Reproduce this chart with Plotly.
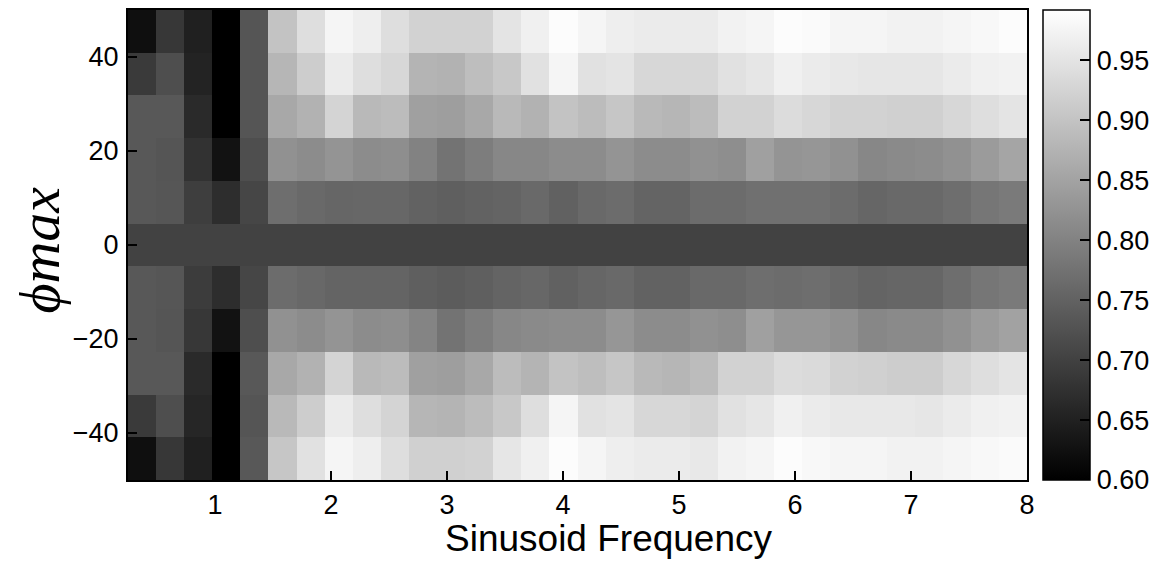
import numpy as np
import plotly.graph_objects as go

# Grid of the experiment
freqs = [0.25, 0.5, 0.75, 1.0, 1.25, 1.5, 1.75, 2.0, 2.25, 2.5, 2.75, 3.0, 3.25, 3.5, 3.75, 4.0,
         4.25, 4.5, 4.75, 5.0, 5.25, 5.5, 5.75, 6.0, 6.25, 6.5, 6.75, 7.0, 7.25, 7.5, 7.75, 8.0]
phis = [-50, -40, -30, -20, -10, 0, 10, 20, 30, 40, 50]

# values for each phi_max row (bottom to top), across the 32 frequencies
row_m50 = [0.623, 0.685, 0.649, 0.600, 0.735, 0.904, 0.946, 0.977, 0.966, 0.941, 0.920, 0.920, 0.923, 0.954, 0.969, 0.987,
           0.977, 0.966, 0.961, 0.961, 0.957, 0.972, 0.977, 0.987, 0.981, 0.977, 0.977, 0.972, 0.972, 0.977, 0.981, 0.984]
row_m40 = [0.689, 0.720, 0.658, 0.600, 0.731, 0.884, 0.915, 0.961, 0.941, 0.926, 0.880, 0.877, 0.889, 0.907, 0.941, 0.977,
           0.946, 0.950, 0.931, 0.931, 0.926, 0.946, 0.954, 0.969, 0.961, 0.957, 0.957, 0.957, 0.954, 0.961, 0.969, 0.972]
row_m30 = [0.735, 0.735, 0.665, 0.600, 0.735, 0.858, 0.874, 0.926, 0.884, 0.889, 0.846, 0.843, 0.858, 0.889, 0.877, 0.900,
           0.892, 0.904, 0.884, 0.880, 0.889, 0.923, 0.923, 0.938, 0.935, 0.923, 0.920, 0.915, 0.915, 0.931, 0.941, 0.950]
row_m20 = [0.735, 0.731, 0.685, 0.628, 0.720, 0.823, 0.815, 0.827, 0.815, 0.818, 0.803, 0.777, 0.792, 0.808, 0.812, 0.815,
           0.815, 0.831, 0.815, 0.815, 0.823, 0.818, 0.846, 0.831, 0.831, 0.823, 0.808, 0.812, 0.812, 0.823, 0.838, 0.849]
row_m10 = [0.735, 0.732, 0.692, 0.669, 0.708, 0.766, 0.760, 0.754, 0.754, 0.754, 0.746, 0.741, 0.746, 0.754, 0.758, 0.749,
           0.757, 0.761, 0.751, 0.751, 0.761, 0.761, 0.769, 0.766, 0.769, 0.761, 0.754, 0.757, 0.757, 0.769, 0.781, 0.788]
row_0 = [0.701, 0.701, 0.701, 0.701, 0.701, 0.701, 0.701, 0.701, 0.701, 0.701, 0.701, 0.701, 0.701, 0.701, 0.701, 0.701,
         0.701, 0.701, 0.701, 0.701, 0.701, 0.701, 0.701, 0.701, 0.701, 0.701, 0.701, 0.701, 0.701, 0.701, 0.701, 0.701]
row_p10 = [0.735, 0.732, 0.695, 0.669, 0.708, 0.769, 0.761, 0.757, 0.758, 0.758, 0.751, 0.746, 0.751, 0.754, 0.761, 0.749,
           0.761, 0.766, 0.754, 0.754, 0.766, 0.766, 0.772, 0.772, 0.772, 0.766, 0.757, 0.761, 0.761, 0.769, 0.781, 0.788]
row_p20 = [0.735, 0.731, 0.677, 0.628, 0.720, 0.823, 0.815, 0.827, 0.815, 0.818, 0.800, 0.777, 0.792, 0.808, 0.808, 0.815,
           0.815, 0.827, 0.815, 0.815, 0.823, 0.818, 0.846, 0.827, 0.831, 0.823, 0.808, 0.812, 0.815, 0.823, 0.838, 0.854]
row_p30 = [0.735, 0.735, 0.665, 0.600, 0.731, 0.858, 0.874, 0.926, 0.884, 0.889, 0.846, 0.843, 0.858, 0.884, 0.874, 0.900,
           0.889, 0.904, 0.884, 0.880, 0.889, 0.923, 0.923, 0.938, 0.931, 0.923, 0.923, 0.920, 0.920, 0.931, 0.941, 0.950]
row_p40 = [0.689, 0.720, 0.654, 0.600, 0.731, 0.880, 0.915, 0.961, 0.941, 0.931, 0.877, 0.874, 0.892, 0.907, 0.946, 0.977,
           0.946, 0.950, 0.931, 0.931, 0.931, 0.946, 0.954, 0.969, 0.961, 0.957, 0.954, 0.954, 0.954, 0.961, 0.969, 0.972]
row_p50 = [0.623, 0.685, 0.649, 0.600, 0.731, 0.900, 0.941, 0.977, 0.966, 0.941, 0.923, 0.923, 0.923, 0.950, 0.969, 0.987,
           0.977, 0.966, 0.961, 0.961, 0.961, 0.972, 0.977, 0.987, 0.984, 0.977, 0.977, 0.972, 0.972, 0.977, 0.981, 0.987]

z = [row_m50, row_m40, row_m30, row_m20, row_m10, row_0, row_p10, row_p20, row_p30, row_p40, row_p50]

x_ticks = [1, 2, 3, 4, 5, 6, 7, 8]
y_ticks = [-40, -20, 0, 20, 40]
cbar_ticks = [0.60, 0.65, 0.70, 0.75, 0.80, 0.85, 0.90, 0.95]

# image extent (like imshow extent=[min, max, min, max])
x_edges = np.linspace(min(freqs), max(freqs), len(freqs) + 1)
y_edges = np.linspace(min(phis), max(phis), len(phis) + 1)

FONT = "Liberation Sans, Arial, sans-serif"

fig = go.Figure(go.Heatmap(
    z=z, x=x_edges, y=y_edges,
    zmin=0.60, zmax=0.992,
    colorscale=[[0, "rgb(0,0,0)"], [1, "rgb(255,255,255)"]],
    colorbar=dict(
        x=1.0178, xanchor="left", xpad=0,
        y=0.5, yanchor="middle", len=1, lenmode="fraction", ypad=0,
        thickness=47, thicknessmode="pixels",
        outlinewidth=1.5, outlinecolor="black",
        tickvals=cbar_ticks, tickformat=".2f",
        ticks="inside", ticklen=10, tickwidth=2, tickcolor="black",
        tickfont=dict(family=FONT, size=27, color="black"),
    ),
    hoverinfo="skip",
))

axis_common = dict(
    showline=True, linewidth=2, linecolor="black", mirror=True,
    ticks="inside", ticklen=9, tickwidth=2, tickcolor="black",
    showgrid=False, zeroline=False, automargin=False,
    tickfont=dict(family=FONT, size=27, color="black"),
)

fig.update_xaxes(range=[0.25, 8], tickvals=x_ticks, ticklabelstandoff=0, **axis_common)
fig.update_yaxes(range=[-50, 50], tickvals=y_ticks, ticklabelstandoff=2, **axis_common)

fig.add_annotation(
    text="Sinusoid Frequency", xref="paper", yref="paper",
    x=0.535, y=-0.125, xanchor="center", yanchor="middle", showarrow=False,
    font=dict(family=FONT, size=37, color="black"),
)
fig.add_annotation(
    text="<i>ϕmax</i>", xref="paper", yref="paper",
    x=-0.098, y=0.49, xanchor="center", yanchor="middle", showarrow=False,
    textangle=-90,
    font=dict(family="Liberation Serif, DejaVu Serif, serif", size=58, color="black"),
)

fig.update_layout(
    width=1170, height=562,
    margin=dict(l=128, r=143, t=10, b=82),
    paper_bgcolor="white", plot_bgcolor="white",
    showlegend=False,
)

fig.write_html("out.html", config={"displayModeBar": False},
               post_script="document.body.style.margin='0';")
